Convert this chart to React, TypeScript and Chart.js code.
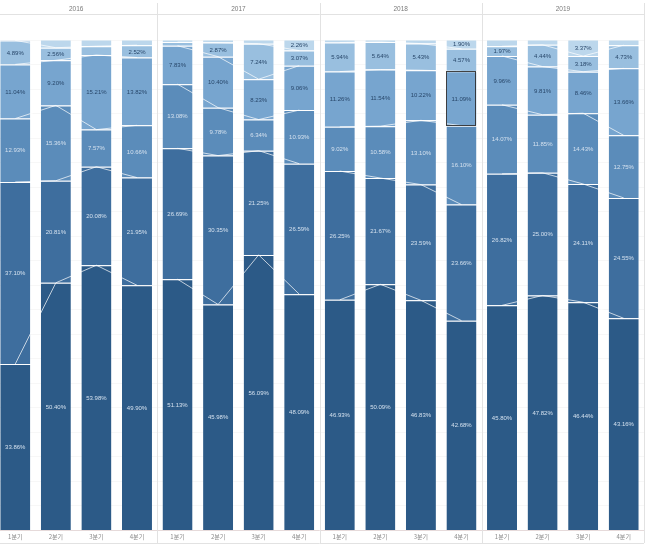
import React, { useEffect, useRef } from "react";
import { Chart, registerables } from "chart.js";

Chart.register(...registerables);

const years = ["2016", "2017", "2018", "2019"];
const quarters = ["1분기", "2분기", "3분기", "4분기"];

// shares per quarter (bottom segment first), 16 quarters 2016 Q1 .. 2019 Q4
const s1 = [33.86, 50.40, 53.98, 49.90, 51.13, 45.98, 56.09, 48.09, 46.93, 50.09, 46.83, 42.68, 45.80, 47.82, 46.44, 43.16];
const s2 = [37.10, 20.81, 20.08, 21.95, 26.69, 30.35, 21.25, 26.59, 26.25, 21.67, 23.59, 23.66, 26.82, 25.00, 24.11, 24.55];
const s3 = [12.93, 15.36, 7.57, 10.66, 13.08, 9.78, 6.34, 10.93, 9.02, 10.58, 13.10, 16.10, 14.07, 11.85, 14.43, 12.75];
const s4 = [11.04, 9.20, 15.21, 13.82, 7.83, 10.40, 8.23, 9.06, 11.26, 11.54, 10.22, 11.09, 9.96, 9.81, 8.46, 13.66];
const s5 = [4.89, 2.56, 1.80, 2.52, 0.75, 2.87, 7.24, 3.07, 5.94, 5.64, 5.43, 4.57, 1.97, 4.44, 3.18, 4.73];
const s6 = [0.18, 1.67, 1.36, 1.15, 0.52, 0.62, 0.85, 2.26, 0.60, 0.48, 0.83, 1.90, 1.38, 1.08, 3.37, 1.15];

const seriesList = [s1, s2, s3, s4, s5, s6];
const seriesColors = ["#2c5a87", "#3e6e9e", "#5b8cba", "#77a5cf", "#99bfdf", "#bcd7ec"];
const labelColors = ["#d3e0ee", "#d3e0ee", "#d3e0ee", "#28476a", "#28476a", "#28476a"];

const categories: string[] = [];
years.forEach((y) => quarters.forEach((q) => categories.push(y + " " + q)));

const FONT = "'Liberation Sans', Arial, sans-serif";

export default function App() {
  const ref = useRef<HTMLCanvasElement | null>(null);

  useEffect(() => {
    document.body.style.margin = "0";
    const canvas = ref.current;
    if (!canvas) return;

    const barSets: any[] = seriesList.map((s, i) => ({
      type: "bar",
      label: "S" + (i + 1),
      data: s,
      backgroundColor: seriesColors[i],
      borderColor: "rgba(255,255,255,0.6)",
      borderWidth: { top: 1, right: 0, bottom: 0, left: 0 },
      borderSkipped: "start",
      categoryPercentage: 1,
      barPercentage: 0.74,
      order: 2,
      yAxisID: "y",
    }));

    // connection lines between bar centers, per year pane, at each segment boundary
    const lineSets: any[] = [];
    years.forEach((_, p) => {
      for (let k = 1; k <= 5; k++) {
        const data = categories.map((_, j) => {
          if (Math.floor(j / 4) !== p) return null;
          let c = 0;
          for (let m = 0; m < k; m++) c += seriesList[m][j];
          return c;
        });
        lineSets.push({
          type: "line",
          data,
          borderColor: "rgba(255,255,255,0.7)",
          borderWidth: 1,
          pointRadius: 0,
          spanGaps: false,
          fill: false,
          order: 1,
          yAxisID: "y2",
        });
      }
    });

    const decor = {
      id: "decor",
      beforeDatasetsDraw(chart: any) {
        const { ctx, chartArea } = chart;
        const y = chart.scales.y;
        ctx.save();
        ctx.strokeStyle = "rgba(0,0,0,0.03)";
        ctx.lineWidth = 1;
        for (let v = 5; v <= 100; v += 5) {
          const py = Math.round(y.getPixelForValue(v)) + 0.5;
          ctx.beginPath();
          ctx.moveTo(chartArea.left, py);
          ctx.lineTo(chartArea.right, py);
          ctx.stroke();
        }
        ctx.restore();
      },
      afterDatasetsDraw(chart: any) {
        const { ctx, chartArea } = chart;
        const x = chart.scales.x;
        const y = chart.scales.y;
        const band = x.getPixelForValue(1) - x.getPixelForValue(0);
        ctx.save();

        // value labels
        ctx.font = "6px " + FONT;
        ctx.textAlign = "center";
        ctx.textBaseline = "middle";
        seriesList.forEach((s, i) => {
          const meta = chart.getDatasetMeta(i);
          s.forEach((v, j) => {
            if (v < 1.85) return;
            const el: any = meta.data[j];
            ctx.fillStyle = labelColors[i];
            ctx.fillText(v.toFixed(2) + "%", el.x, (el.y + el.base) / 2 + 0.5);
          });
        });

        // selected mark (2018 4분기, 4th segment)
        const sel: any = chart.getDatasetMeta(3).data[11];
        ctx.strokeStyle = "rgba(45,45,45,0.9)";
        ctx.lineWidth = 1;
        ctx.strokeRect(Math.round(sel.x - sel.width / 2) + 0.5, Math.round(sel.y) + 0.5, Math.round(sel.width) - 1, Math.round(sel.base - sel.y));

        // x-axis baseline
        const by = Math.round(y.getPixelForValue(0)) + 0.5;
        ctx.strokeStyle = "#e6dada";
        ctx.beginPath();
        ctx.moveTo(chartArea.left, by);
        ctx.lineTo(chartArea.right, by);
        ctx.stroke();

        // header line
        ctx.strokeStyle = "#e2e2e2";
        ctx.beginPath();
        ctx.moveTo(chartArea.left, chartArea.top - 0.5);
        ctx.lineTo(chartArea.right, chartArea.top - 0.5);
        ctx.stroke();

        // bottom line
        ctx.beginPath();
        ctx.moveTo(chartArea.left, 543.5);
        ctx.lineTo(chartArea.right, 543.5);
        ctx.stroke();

        // pane dividers + year titles
        years.forEach((yr, p) => {
          const c0 = x.getPixelForValue(p * 4);
          const c3 = x.getPixelForValue(p * 4 + 3);
          const right = Math.round(c3 + band / 2) + 0.5;
          ctx.strokeStyle = "#e2e2e2";
          ctx.beginPath();
          ctx.moveTo(right, 3);
          ctx.lineTo(right, 543);
          ctx.stroke();
          ctx.fillStyle = "#7a7a7a";
          ctx.font = "6.5px " + FONT;
          ctx.fillText(yr, (c0 + c3) / 2, 9.5);
        });

        // quarter labels
        ctx.font = "6px 'Noto Sans CJK KR', sans-serif";
        ctx.fillStyle = "#8a8a8a";
        categories.forEach((_, j) => {
          ctx.fillText(quarters[j % 4], x.getPixelForValue(j), 537);
        });
        ctx.restore();
      },
    };

    const chart = new Chart(canvas, {
      type: "bar",
      data: { labels: categories, datasets: [...barSets, ...lineSets] },
      options: {
        animation: false,
        responsive: false,
        devicePixelRatio: 1,
        layout: { padding: { left: 0, right: 8, top: 15, bottom: 16 } },
        plugins: { legend: { display: false }, tooltip: { enabled: false } },
        scales: {
          x: { type: "category", display: false, stacked: true, offset: true },
          y: { display: false, stacked: true, min: 0, max: 105 },
          y2: { display: false, min: 0, max: 105 },
        },
      } as any,
      plugins: [decor],
    } as any);

    return () => chart.destroy();
  }, []);

  return (
    <div style={{ position: "relative", width: 652, height: 546, overflow: "hidden", background: "#fff" }}>
      <canvas ref={ref} width={657} height={546} style={{ position: "absolute", left: -5, top: 0, width: 657, height: 546 }} />
    </div>
  );
}
